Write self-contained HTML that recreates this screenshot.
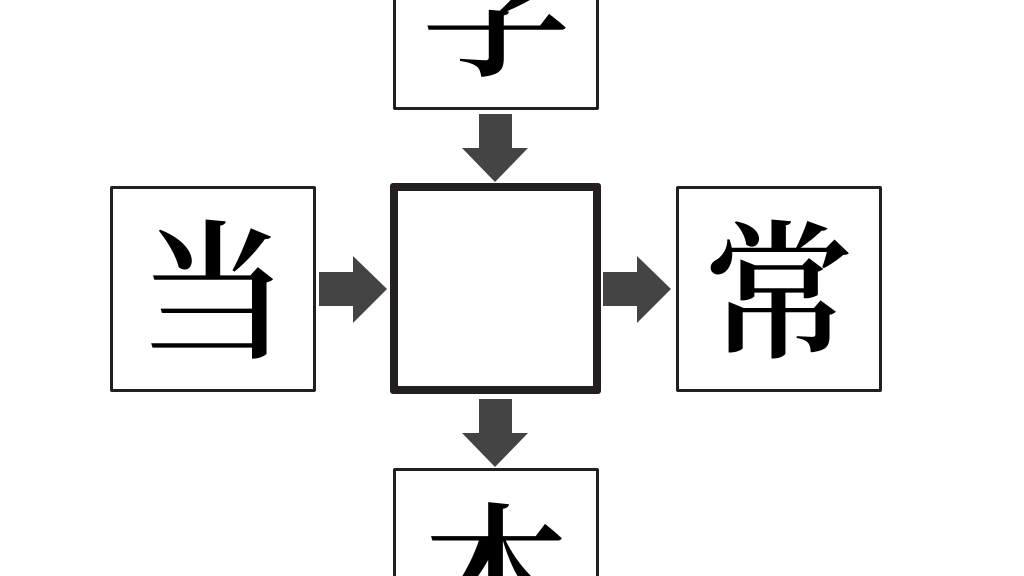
<!DOCTYPE html>
<html><head><meta charset="utf-8"><style>
html,body{margin:0;width:1024px;height:576px;overflow:hidden}
body{background:#fff;position:relative;font-family:"Liberation Serif","Noto Serif CJK SC",serif}
.b{position:absolute;box-sizing:border-box;border:3px solid #231f20;border-radius:2px;display:flex;align-items:center;justify-content:center;font-size:150px;font-weight:600;line-height:1;color:#000;padding-top:14px;overflow:hidden}
.clip{position:absolute;left:380px;top:460px;width:240px;height:116px;overflow:hidden}
svg{position:absolute;left:0;top:0}
</style></head><body>
<div class="b" style="left:393px;top:-97px;width:206px;height:207px">学</div>
<div class="b" style="left:110px;top:186px;width:206px;height:206px">当</div>
<div class="b" style="left:390px;top:183px;width:211px;height:211px;border-width:8px;border-radius:3px"></div>
<div class="b" style="left:676px;top:186px;width:206px;height:206px">常</div>
<div class="clip"><div class="b" style="left:13px;top:8px;width:206px;height:207px">本</div></div>
<svg width="1024" height="576">
<g fill="#444">
<polygon points="479,114 512,114 512,148 528,148 495,182 462,148 479,148"/>
<polygon points="479,399 512,399 512,433 528,433 495,467 462,433 479,433"/>
<polygon points="319,272 353,272 353,256 387,289 353,323 353,306 319,306"/>
<polygon points="603,272 637,272 637,256 671,289 637,323 637,306 603,306"/>
</g></svg>
</body></html>
